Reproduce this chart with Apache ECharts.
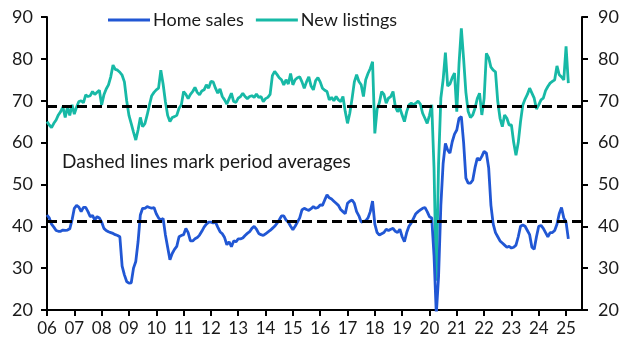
<!DOCTYPE html>
<html><head><meta charset="utf-8">
<script src="https://cdn.jsdelivr.net/npm/echarts@6/dist/echarts.min.js"></script>
<style>html,body{margin:0;padding:0;background:#fff}#c{width:629px;height:355px}</style>
</head><body><div id="c"></div>
<script>
// Monthly data, Jan 2006 .. Feb 2025
const homeSales = [
  42.7, 42.0, 40.5, 39.8, 39.0, 38.8, 38.8, 39.1, 39.0, 39.1, 39.4, 41.5, // 2006
  44.3, 45.0, 44.6, 43.5, 44.5, 44.5, 43.5, 42.3, 42.6, 41.5, 42.3, 42.0, // 2007
  41.0, 39.5, 39.0, 38.7, 38.5, 38.3, 38.0, 37.8, 37.5, 30.5, 28.4, 26.8, // 2008
  26.4, 26.5, 30.0, 31.6, 36.3, 42.7, 44.3, 44.3, 44.7, 44.5, 44.3, 44.5, // 2009
  43.0, 42.0, 41.5, 41.9, 38.0, 35.0, 32.0, 33.5, 34.5, 35.2, 37.5, 37.8, // 2010
  38.0, 39.5, 38.5, 36.5, 36.5, 37.0, 37.3, 37.9, 38.8, 39.8, 40.5, 41.0, // 2011
  41.0, 40.8, 41.0, 39.8, 38.7, 38.2, 37.3, 35.6, 36.3, 35.1, 36.5, 36.3, // 2012
  37.0, 37.0, 37.2, 37.8, 38.3, 38.7, 39.5, 40.0, 39.3, 38.3, 38.0, 37.8, // 2013
  38.2, 38.6, 39.0, 39.5, 40.0, 40.7, 41.5, 42.5, 42.5, 41.5, 41.0, 40.0, // 2014
  39.2, 40.0, 41.0, 42.0, 43.9, 44.3, 44.0, 43.8, 44.2, 44.7, 44.3, 44.5, // 2015
  45.1, 45.0, 46.3, 47.5, 46.8, 46.5, 46.0, 45.5, 45.0, 44.0, 43.5, 43.0, // 2016
  45.5, 46.0, 46.3, 45.5, 43.5, 42.5, 41.0, 41.2, 41.3, 42.0, 43.5, 46.0, // 2017
  40.5, 38.5, 37.9, 38.2, 38.5, 39.3, 39.0, 39.3, 39.5, 38.8, 38.5, 39.3, // 2018
  37.5, 36.3, 38.5, 40.0, 40.8, 41.9, 43.0, 43.5, 43.9, 44.3, 44.5, 43.5, // 2019
  42.3, 42.0, 33.0, 19.0, 28.0, 45.0, 55.0, 59.8, 58.2, 57.5, 60.2, 62.0, // 2020
  63.0, 65.8, 66.2, 60.0, 51.5, 50.3, 50.3, 51.0, 54.0, 56.3, 55.8, 56.7, // 2021
  57.9, 57.5, 54.0, 45.0, 40.5, 38.5, 37.5, 36.5, 36.0, 35.5, 35.0, 35.2, // 2022
  34.8, 35.0, 35.5, 37.5, 40.0, 40.3, 40.0, 39.0, 38.0, 35.0, 34.5, 37.5, // 2023
  40.0, 40.2, 39.5, 38.5, 37.5, 38.5, 38.5, 39.0, 40.5, 43.0, 44.5, 42.0, // 2024
  41.0, 37.0                                                              // 2025
];
const newListings = [
  65.0, 64.2, 63.6, 64.6, 65.4, 66.6, 67.4, 68.5, 66.0, 68.5, 66.5, 69.0, // 2006
  66.8, 68.5, 69.8, 70.0, 69.5, 71.4, 71.0, 71.2, 72.2, 71.5, 72.0, 72.5, // 2007
  69.0, 71.4, 72.8, 73.8, 75.7, 78.5, 77.5, 77.3, 76.8, 76.1, 74.5, 70.0, // 2008
  66.5, 64.5, 62.5, 60.6, 63.0, 66.0, 63.8, 64.5, 66.6, 69.0, 71.2, 72.0, // 2009
  72.6, 73.0, 77.3, 74.0, 69.8, 66.5, 65.0, 66.0, 66.2, 66.5, 68.2, 69.0, // 2010
  72.2, 71.5, 70.5, 71.5, 72.2, 73.2, 72.0, 71.4, 72.3, 72.6, 73.8, 73.0, // 2011
  74.6, 74.5, 73.0, 71.8, 72.8, 71.0, 70.2, 69.2, 70.5, 71.8, 69.8, 69.6, // 2012
  70.6, 71.0, 71.8, 71.0, 70.5, 71.0, 71.2, 70.8, 71.6, 70.8, 71.0, 69.8, // 2013
  70.5, 70.8, 71.5, 76.0, 77.0, 76.3, 75.5, 75.0, 73.8, 75.0, 74.0, 76.5, // 2014
  73.8, 75.0, 75.5, 75.7, 74.5, 73.0, 74.5, 75.7, 73.5, 72.6, 74.8, 75.5, // 2015
  74.5, 73.0, 72.5, 72.2, 70.2, 70.8, 70.0, 71.0, 70.2, 69.8, 71.0, 67.4, // 2016
  64.6, 67.0, 70.5, 74.5, 76.2, 74.6, 73.8, 71.0, 75.0, 76.5, 77.7, 79.3, // 2017
  62.2, 68.0, 69.5, 72.2, 71.5, 69.4, 70.6, 71.0, 72.2, 68.6, 67.4, 68.2, // 2018
  66.6, 65.0, 67.4, 69.0, 69.4, 69.0, 69.4, 69.9, 69.2, 67.0, 65.8, 64.6, // 2019
  66.5, 69.0, 54.0, 27.0, 55.0, 70.6, 75.0, 81.5, 73.5, 74.0, 75.5, 76.6, // 2020
  67.4, 79.0, 87.3, 80.0, 72.0, 67.4, 66.0, 66.6, 68.2, 70.5, 71.8, 66.6, // 2021
  70.5, 81.3, 80.3, 78.0, 77.3, 76.9, 69.8, 65.8, 63.8, 66.6, 65.8, 64.2, // 2022
  64.2, 60.0, 57.0, 60.0, 65.0, 69.0, 70.4, 71.5, 73.0, 71.8, 70.6, 68.0, // 2023
  69.0, 70.2, 70.6, 72.4, 73.4, 74.2, 74.6, 75.0, 78.3, 76.2, 75.7, 75.0, // 2024
  83.0, 74.2                                                              // 2025
];
const periodAverages = [41.1, 68.7]; // home sales, new listings
const seriesNames = ['Home sales', 'New listings'];
const yTicks = [20, 30, 40, 50, 60, 70, 80, 90];
const firstYear = 2006, lastYear = 2025, lastMonth = 8; // axis runs to Aug 2025

const categories = [];
for (let y = firstYear; y <= lastYear; y++) {
  for (let m = 1; m <= 12; m++) {
    if (y === lastYear && m > lastMonth) break;
    categories.push(y + '-' + String(m).padStart(2, '0'));
  }
}

const FONT = 'Lato';
const chart = echarts.init(document.getElementById('c'));
const yAxisBase = {
  type: 'value', min: yTicks[0], max: yTicks[yTicks.length - 1], interval: 10,
  splitLine: { show: false },
  axisLine: { show: true, lineStyle: { color: '#000', width: 2 } },
  axisTick: { show: true, length: 6, lineStyle: { color: '#000', width: 2 } },
  axisLabel: { color: '#1a1a1a', fontFamily: FONT, fontSize: 18 }
};
chart.setOption({
  animation: false,
  textStyle: { fontFamily: FONT },
  grid: { left: 47, right: 47, top: 17, bottom: 45, containLabel: false },
  legend: {
    left: 108, top: 11, padding: 0, itemGap: 12, itemWidth: 42, itemHeight: 3,
    icon: 'rect',
    textStyle: { color: '#1a1a1a', fontFamily: FONT, fontSize: 18, padding: [0, 0, 0, -2] },
    data: seriesNames
  },
  xAxis: {
    type: 'category', data: categories, boundaryGap: false,
    axisLine: { lineStyle: { color: '#000', width: 2 } },
    axisTick: { length: 6, interval: (i) => i % 12 === 0, lineStyle: { color: '#000', width: 2 } },
    axisLabel: {
      interval: (i) => i % 12 === 0, margin: 10,
      color: '#1a1a1a', fontFamily: FONT, fontSize: 17,
      formatter: (v) => v.slice(2, 4)
    }
  },
  yAxis: [
    Object.assign({}, yAxisBase, { position: 'left', axisLabel: Object.assign({}, yAxisBase.axisLabel, { margin: 14 }) }),
    Object.assign({}, yAxisBase, { position: 'right', axisLabel: Object.assign({}, yAxisBase.axisLabel, { margin: 16 }) })
  ],
  graphic: [{
    type: 'text', left: 62, top: 152,
    style: { text: 'Dashed lines mark period averages', fill: '#1a1a1a', font: '19px ' + FONT }
  }],
  series: [
    {
      name: seriesNames[1], type: 'line', data: newListings, symbol: 'none', z: 2,
      itemStyle: { color: '#17b9a6' }, lineStyle: { color: '#17b9a6', width: 2.8 },
      markLine: { silent: true, symbol: 'none', label: { show: false },
        lineStyle: { color: '#000', type: [10, 5], width: 3 },
        data: [{ yAxis: periodAverages[1] }] }
    },
    {
      name: seriesNames[0], type: 'line', data: homeSales, symbol: 'none', z: 3,
      itemStyle: { color: '#2157d4' }, lineStyle: { color: '#2157d4', width: 2.8 },
      markLine: { silent: true, symbol: 'none', label: { show: false },
        lineStyle: { color: '#000', type: [10, 5], width: 3 },
        data: [{ yAxis: periodAverages[0] }] }
    }
  ]
});
</script></body></html>
